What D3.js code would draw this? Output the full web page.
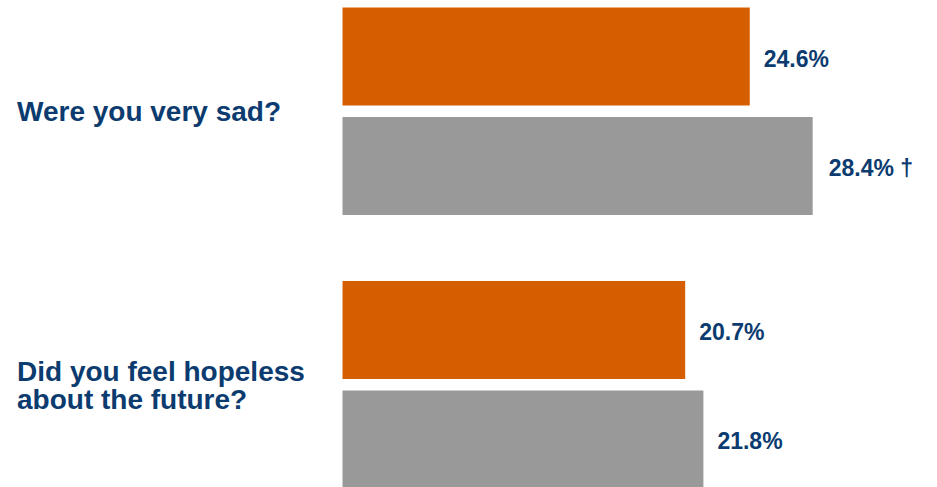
<!DOCTYPE html>
<html>
<head>
<meta charset="utf-8">
<script src="https://cdn.jsdelivr.net/npm/d3@7"></script>
<style>
  html, body { margin: 0; padding: 0; background: #ffffff; }
  svg { display: block; }
</style>
</head>
<body>
<svg id="chart" width="937" height="487"></svg>
<script>
// ---- data ----
const categories = ["Were you very sad?", "Did you feel hopeless\nabout the future?"];
const seriesNames = ["Group A", "Group B"];
const seriesA = [24.6, 20.7];
const seriesB = [28.4, 21.8];
const seriesBMarks = ["\u2020", ""];
const seriesColors = ["#D55E00", "#999999"];

// ---- layout ----
const width = 937, height = 487;
const svg = d3.select("#chart");
const textColor = "#0B3B6F";
const fontFamily = "'Liberation Sans', Arial, Helvetica, sans-serif";

const x = d3.scaleLinear().domain([0, 30]).range([342.5, 342.5 + 16.555 * 30]);

const yGroup = d3.scaleBand()
  .domain(categories)
  .range([7.5, 488.5])
  .paddingInner(0.2413)
  .paddingOuter(0);

const ySeries = d3.scaleBand()
  .domain(seriesNames)
  .range([0, yGroup.bandwidth()])
  .paddingInner(0.105)
  .paddingOuter(0);

const rows = [];
categories.forEach((c, i) => {
  rows.push({ cat: c, series: seriesNames[0], value: seriesA[i], mark: "", color: seriesColors[0] });
  rows.push({ cat: c, series: seriesNames[1], value: seriesB[i], mark: seriesBMarks[i], color: seriesColors[1] });
});

// bars
svg.append("g").selectAll("rect")
  .data(rows)
  .join("rect")
  .attr("x", x(0))
  .attr("y", d => yGroup(d.cat) + ySeries(d.series))
  .attr("width", d => x(d.value) - x(0))
  .attr("height", ySeries.bandwidth())
  .attr("fill", d => d.color);

// value labels
svg.append("g").selectAll("text")
  .data(rows)
  .join("text")
  .attr("x", d => x(d.value) + (d.mark ? 16 : 14))
  .attr("y", d => yGroup(d.cat) + ySeries(d.series) + ySeries.bandwidth() / 2 + 10)
  .attr("fill", textColor)
  .attr("font-family", fontFamily)
  .attr("font-weight", "bold")
  .attr("font-size", 23)
  .text(d => d.value.toFixed(1) + "%" + (d.mark ? " " + d.mark : ""));

// category labels
svg.append("g").selectAll("text")
  .data(categories)
  .join("text")
  .attr("x", 17)
  .attr("fill", textColor)
  .attr("font-family", fontFamily)
  .attr("font-weight", "bold")
  .attr("font-size", 28)
  .each(function (c) {
    const lines = c.split("\n");
    const lh = 28;
    const center = yGroup(c) + yGroup.bandwidth() / 2;
    const first = center + 10 - (lines.length - 1) * lh / 2;
    d3.select(this).selectAll("tspan")
      .data(lines)
      .join("tspan")
      .attr("x", 17)
      .attr("y", (l, j) => first + j * lh)
      .text(l => l);
  });
</script>
</body>
</html>
